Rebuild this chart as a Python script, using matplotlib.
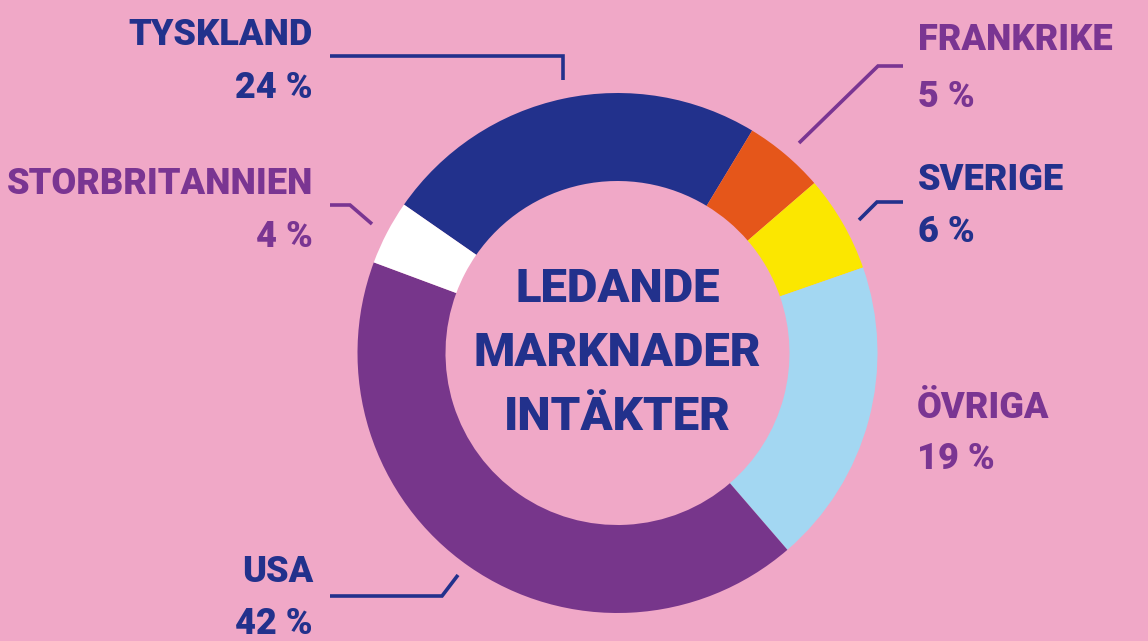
import matplotlib
matplotlib.use("Agg")
import matplotlib.pyplot as plt

# ---- data ----
countries = ["TYSKLAND", "FRANKRIKE", "SVERIGE", "ÖVRIGA", "USA", "STORBRITANNIEN"]
shares = [24, 5, 6, 19, 42, 4]
slice_colors = ["#22318C", "#E5561A", "#FBE700", "#A3D7F2", "#77368B", "#FFFFFF"]
title_lines = ["LEDANDE", "MARKNADER", "INTÄKTER"]

BG = "#F0A8C7"
BLUE = "#22318C"
PURPLE = "#7A3592"
W, H = 1148, 641

fig = plt.figure(figsize=(W / 100, H / 100), dpi=100, facecolor=BG)
ax = fig.add_axes([0, 0, 1, 1])
ax.set_facecolor(BG)

def Y(yp):
    return H - yp

cx, cy, R = 617.5, 353, 260
ax.pie(shares, colors=slice_colors, startangle=145.2, counterclock=False,
       center=(cx, Y(cy)), radius=R, frame=True,
       wedgeprops=dict(width=88, linewidth=0))
ax.set_xlim(0, W)
ax.set_ylim(0, H)
ax.set_aspect("equal")
ax.axis("off")

FONT = dict(family=["Roboto", "DejaVu Sans"], fontweight=900)
LBL = 26

# label settings: (x, ha, name_y, pct_y, color)
labels = {
    "TYSKLAND": (313, "right", 31, 84, BLUE),
    "FRANKRIKE": (918, "left", 36, 93, PURPLE),
    "SVERIGE": (918, "left", 176, 228, BLUE),
    "ÖVRIGA": (917, "left", 404, 455, PURPLE),
    "USA": (313, "right", 568, 620, BLUE),
    "STORBRITANNIEN": (313, "right", 180, 233, PURPLE),
}
for name, val in zip(countries, shares):
    x, ha, ny, py, col = labels[name]
    ax.text(x, Y(ny), name, ha=ha, va="center_baseline", color=col, fontsize=LBL, **FONT)
    ax.text(x, Y(py), f"{val} %", ha=ha, va="center_baseline", color=col, fontsize=LBL, **FONT)

# leader lines (pixel coords)
leaders = [
    ([330, 563, 563], [56, 56, 80], BLUE),
    ([903, 878, 799], [66, 66, 143], PURPLE),
    ([903, 877, 859], [202, 202, 220], BLUE),
    ([330, 350, 372], [205, 205, 224], PURPLE),
    ([330, 442, 458], [596, 596, 575], BLUE),
]
for xs, ys, col in leaders:
    ax.plot(xs, [Y(v) for v in ys], color=col, lw=2.6, solid_capstyle="butt",
            solid_joinstyle="miter")

for txt, yp in zip(title_lines, [285, 348, 413]):
    ax.text(cx, Y(yp), txt, ha="center", va="center_baseline", color=BLUE,
            fontsize=34, **FONT)

fig.savefig("out.png", dpi=100, facecolor=BG)
